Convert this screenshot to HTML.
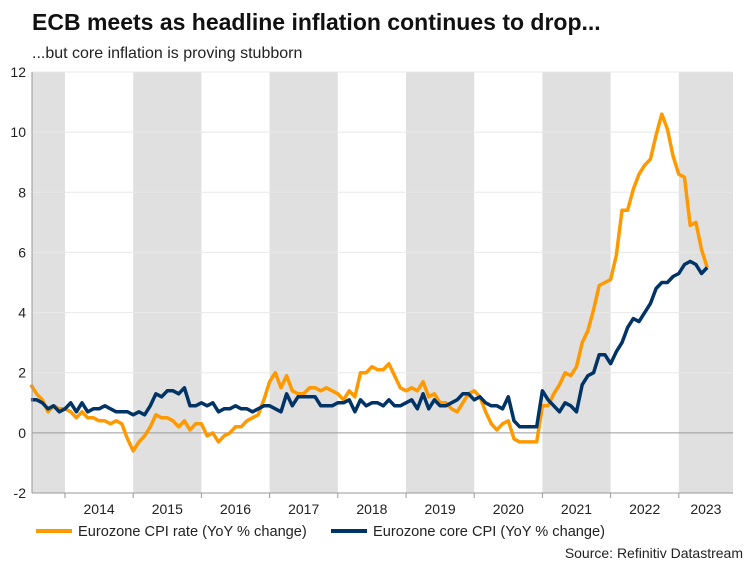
<!DOCTYPE html>
<html><head><meta charset="utf-8"><style>
body{margin:0;background:#fff;font-family:"Liberation Sans",Arial,sans-serif;}
svg text{font-family:"Liberation Sans",Arial,sans-serif;}
</style></head><body>
<svg id="chart" width="753" height="565">
<text x="32" y="30" font-size="23" font-weight="bold" fill="#111">ECB meets as headline inflation continues to drop...</text>
<text x="32" y="58" font-size="16" fill="#222">...but core inflation is proving stubborn</text>
<g id="bands"></g><g id="grid"></g><g id="lines"></g><g id="axes"></g>
<g>
<line x1="36" y1="531" x2="72" y2="531" stroke="#ff9900" stroke-width="4"/>
<text x="78" y="536" font-size="14.6" fill="#222">Eurozone CPI rate (YoY % change)</text>
<line x1="331" y1="531" x2="367" y2="531" stroke="#003366" stroke-width="4"/>
<text x="373" y="536" font-size="14.6" fill="#222">Eurozone core CPI (YoY % change)</text>
</g>
<text x="743" y="558" font-size="14" fill="#222" text-anchor="end">Source: Refinitiv Datastream</text>
</svg>
<script>
const years=[2014,2015,2016,2017,2018,2019,2020,2021,2022,2023];
const yTicks=[-2,0,2,4,6,8,10,12];
const headline=[1.6,1.3,1.1,0.7,0.9,0.8,
0.8,0.7,0.5,0.7,0.5,0.5,0.4,0.4,0.3,0.4,0.3,-0.2,
-0.6,-0.3,-0.1,0.2,0.6,0.5,0.5,0.4,0.2,0.4,0.1,0.3,
0.3,-0.1,0.0,-0.3,-0.1,0.0,0.2,0.2,0.4,0.5,0.6,1.1,
1.7,2.0,1.5,1.9,1.4,1.3,1.3,1.5,1.5,1.4,1.5,1.4,
1.3,1.1,1.4,1.2,2.0,2.0,2.2,2.1,2.1,2.3,1.9,1.5,
1.4,1.5,1.4,1.7,1.2,1.3,1.0,1.0,0.8,0.7,1.0,1.3,
1.4,1.2,0.7,0.3,0.1,0.3,0.4,-0.2,-0.3,-0.3,-0.3,-0.3,
0.9,0.9,1.3,1.6,2.0,1.9,2.2,3.0,3.4,4.1,4.9,5.0,
5.1,5.9,7.4,7.4,8.1,8.6,8.9,9.1,9.9,10.6,10.1,9.2,
8.6,8.5,6.9,7.0,6.1,5.5];
const core=[1.1,1.1,1.0,0.8,0.9,0.7,
0.8,1.0,0.7,1.0,0.7,0.8,0.8,0.9,0.8,0.7,0.7,0.7,
0.6,0.7,0.6,0.9,1.3,1.2,1.4,1.4,1.3,1.5,0.9,0.9,
1.0,0.9,1.0,0.7,0.8,0.8,0.9,0.8,0.8,0.7,0.8,0.9,
0.9,0.8,0.7,1.3,0.9,1.2,1.2,1.2,1.2,0.9,0.9,0.9,
1.0,1.0,1.1,0.7,1.1,0.9,1.0,1.0,0.9,1.1,0.9,0.9,
1.0,1.1,0.8,1.3,0.8,1.1,0.9,0.9,1.0,1.1,1.3,1.3,
1.1,1.2,1.0,0.9,0.9,0.8,1.2,0.4,0.2,0.2,0.2,0.2,
1.4,1.1,0.9,0.7,1.0,0.9,0.7,1.6,1.9,2.0,2.6,2.6,
2.3,2.7,3.0,3.5,3.8,3.7,4.0,4.3,4.8,5.0,5.0,5.2,
5.3,5.6,5.7,5.6,5.3,5.5];
const startMonth=-6; // Jul 2013 relative to Jan 2014
const L=32,R=733,T=72,B=493,X0=65,YW=68.2;
const xm=m=>X0+m*YW/12;
const y=v=>B-(v+2)*(B-T)/14;
const NS="http://www.w3.org/2000/svg";
function mk(p,tag,a){const e=document.createElementNS(NS,tag);for(const k in a)e.setAttribute(k,a[k]);document.getElementById(p).appendChild(e);return e;}
for(let yr=2013;yr<=2023;yr+=2){
 const x1=Math.max(L,xm((yr-2014)*12)),x2=Math.min(R,xm((yr-2013)*12));
 const e=mk('bands','rect',{x:x1,y:T,width:x2-x1,height:B-T,fill:'#e0e0e0'});
 
 
}
yTicks.forEach(t=>{
 const g=mk('grid','line',{x1:L,x2:R,y1:y(t),y2:y(t),stroke:t===0?'#999':'#e8e8e8','stroke-width':1});
 
 
 const tx=mk('axes','text',{x:26,y:y(t)+5,'font-size':14,'text-anchor':'end',fill:'#222'});
 tx.textContent=t;
 
 
});
const ax=mk('axes','line',{x1:L,x2:R,y1:B,y2:B,stroke:'#999'});


const ay=mk('axes','line',{x1:L,x2:L,y1:T,y2:B,stroke:'#999'});


years.forEach((yr,i)=>{
 const x=xm(i*12);
 const tk=mk('axes','line',{x1:x,x2:x,y1:B,y2:B+5,stroke:'#999'});
 
 
 const tx=mk('axes','text',{x:Math.min(x+YW/2,(x+R)/2),y:514,'font-size':14,'text-anchor':'middle',fill:'#222'});
 tx.textContent=yr;
 
 
});
function line(arr,color,name){
 const pts=arr.map((v,i)=>xm(startMonth+i).toFixed(1)+','+y(v).toFixed(1)).join(' ');
 const p=mk('lines','polyline',{points:pts,fill:'none',stroke:color,'stroke-width':3.5,'stroke-linejoin':'round'});
 
 
}
line(headline,'#ff9900','cpi-line');
line(core,'#003366','core-cpi-line');
</script>
</body></html>
